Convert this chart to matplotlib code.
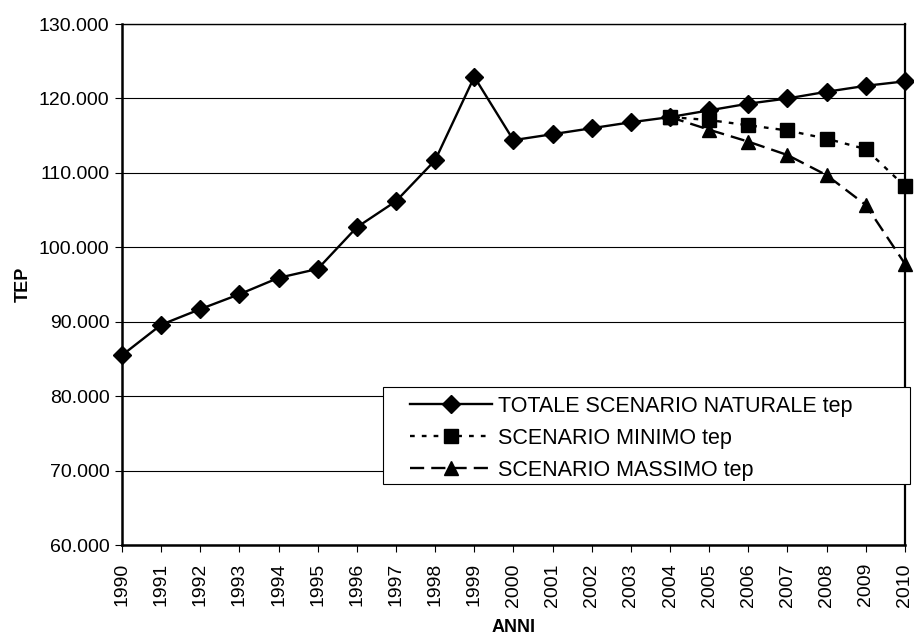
import matplotlib.pyplot as plt
from matplotlib.patches import Rectangle
from matplotlib.ticker import FuncFormatter

anni = list(range(1990, 2011))
totale = [85500, 89600, 91700, 93700, 95900, 97100, 102700, 106200, 111700, 122900,
          114400, 115200, 116000, 116800, 117500, 118400, 119300, 120000, 120900, 121700, 122300]
anni_scen = list(range(2004, 2011))
minimo = [117500, 117100, 116400, 115700, 114600, 113200, 108200]
massimo = [117500, 115800, 114200, 112400, 109700, 105700, 97800]

plt.rcParams['font.family'] = ['Liberation Sans', 'DejaVu Sans']

fig = plt.figure(figsize=(9.14, 6.39), dpi=100)
ax = fig.add_axes([0.1335, 0.147, 0.8565, 0.8154])

ax.plot(anni, totale, color='black', lw=1.7, marker='D', markersize=9,
        label='TOTALE SCENARIO NATURALE tep', zorder=3, clip_on=False)
ax.plot(anni_scen, minimo, color='black', lw=1.7, ls=(0, (2, 3)), marker='s', markersize=10.5,
        label='SCENARIO MINIMO tep', zorder=4, clip_on=False)
ax.plot(anni_scen, massimo, color='black', lw=1.7, ls=(0, (6, 3)), marker='^', markersize=10.5,
        label='SCENARIO MASSIMO tep', zorder=4, clip_on=False)

ax.set_xlim(1990, 2010)
ax.set_ylim(60000, 130000)
ax.set_yticks(range(60000, 130001, 10000))
ax.yaxis.set_major_formatter(FuncFormatter(lambda v, p: f"{int(v):,}".replace(',', '.')))
ax.set_xticks(anni)
ax.set_xticklabels([str(a) for a in anni], rotation=90)
ax.tick_params(axis='both', labelsize=14, direction='out', length=5, color='black')
ax.tick_params(axis='y', pad=4)
ax.tick_params(axis='x', pad=8)
ax.grid(axis='y', color='black', lw=0.8)
ax.set_axisbelow(True)

ax.spines['top'].set_linewidth(1.0)
ax.spines['right'].set_linewidth(1.6)
for s in ['left', 'bottom']:
    ax.spines[s].set_linewidth(1.8)

ax.set_ylabel('TEP', fontsize=13, fontweight='bold', labelpad=5)
ax.set_xlabel('ANNI', fontsize=13, fontweight='bold', labelpad=9)

# legend box drawn by hand (wider than its contents, as in the original)
fig.patches.append(Rectangle((383 / 914, 1 - 484 / 639), 527 / 914, 97 / 639,
                             transform=fig.transFigure, facecolor='white',
                             edgecolor='black', lw=0.8, zorder=5))
leg = fig.legend(loc='upper left', bbox_to_anchor=(410 / 914, 1 - 396 / 639), fontsize=15.5,
                 frameon=False, handlelength=3.8, handletextpad=0.3, borderpad=0,
                 labelspacing=0.5, borderaxespad=0)
leg.set_zorder(6)

fig.savefig('out.png', dpi=100)
